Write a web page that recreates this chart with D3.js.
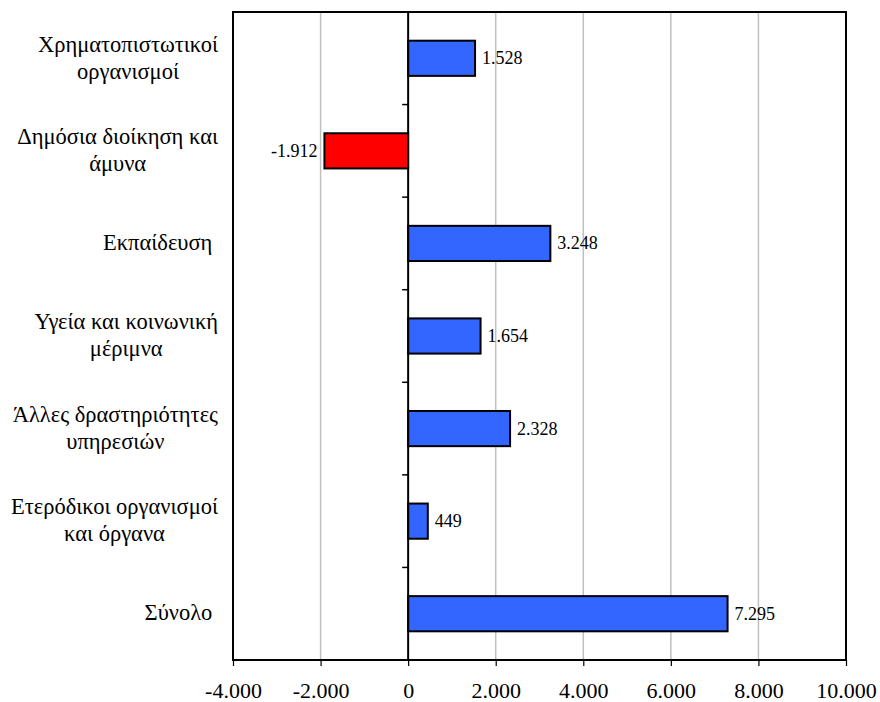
<!DOCTYPE html>
<html>
<head>
<meta charset="utf-8">
<script src="https://cdn.jsdelivr.net/npm/d3@7"></script>
<style>
  body { margin: 0; background: #fff; }
  svg text { font-family: "Liberation Serif", "Times New Roman", serif !important; fill: #000; }
</style>
</head>
<body>
<script>
// Data
const categories = [
    ["Χρηματοπιστωτικοί", "οργανισμοί"],
    ["Δημόσια διοίκηση και", "άμυνα"],
    ["Εκπαίδευση "],
    ["Υγεία και κοινωνική", "μέριμνα"],
    ["Άλλες δραστηριότητες", "υπηρεσιών"],
    ["Ετερόδικοι οργανισμοί", "και όργανα"],
    ["Σύνολο "]
];
const values = [1528, -1912, 3248, 1654, 2328, 449, 7295];
const xTicks = [-4000, -2000, 0, 2000, 4000, 6000, 8000, 10000];

const width = 880, height = 702;
const margin = { top: 12, right: 34, bottom: 42, left: 233 };

const svg = d3.select("body").append("svg")
    .attr("width", width)
    .attr("height", height);

// Greek number format: dot as thousands separator
const fmt = d3.formatLocale({ decimal: ",", thousands: ".", grouping: [3], currency: ["", "€"], minus: "-" }).format(",d");

const xScale = d3.scaleLinear()
    .domain([-4000, 10000])
    .range([margin.left, width - margin.right]);

const yScale = d3.scaleBand()
    .domain(d3.range(categories.length))
    .range([margin.top, height - margin.bottom])
    .paddingInner(0.62)
    .paddingOuter(0.31);

const bandStep = yScale.step();

// Gridlines
svg.append("g")
    .selectAll("line")
    .data(xTicks.filter(d => d !== 0 && d !== -4000 && d !== 10000))
    .join("line")
    .attr("x1", d => xScale(d))
    .attr("x2", d => xScale(d))
    .attr("y1", margin.top)
    .attr("y2", height - margin.bottom)
    .attr("stroke", "#c0c0c0")
    .attr("stroke-width", 1.5);

// Bottom axis
const xAxis = svg.append("g")
    .attr("transform", `translate(0,${height - margin.bottom})`)
    .call(d3.axisBottom(xScale).tickValues(xTicks).tickFormat(fmt).tickSize(6).tickPadding(16));
xAxis.select(".domain").remove();
xAxis.selectAll("line").attr("stroke", "#000").attr("stroke-width", 1.2);
xAxis.selectAll("text")
    .style("font-size", "22px");

// Bars
svg.append("g")
    .selectAll("rect")
    .data(values)
    .join("rect")
    .attr("x", d => xScale(Math.min(0, d)))
    .attr("y", (d, i) => yScale(i))
    .attr("width", d => Math.abs(xScale(d) - xScale(0)))
    .attr("height", yScale.bandwidth())
    .attr("fill", d => d < 0 ? "#ff0000" : "#3366ff")
    .attr("stroke", "#000")
    .attr("stroke-width", 2);

// Value labels
svg.append("g")
    .selectAll("text")
    .data(values)
    .join("text")
    .attr("x", d => d < 0 ? xScale(d) - 7 : xScale(d) + 7)
    .attr("y", (d, i) => yScale(i) + yScale.bandwidth() / 2)
    .attr("dy", "0.33em")
    .attr("text-anchor", d => d < 0 ? "end" : "start")
    .style("font-size", "18px")
    .text(d => fmt(d));

// Zero axis with category ticks
svg.append("line")
    .attr("x1", xScale(0))
    .attr("x2", xScale(0))
    .attr("y1", margin.top)
    .attr("y2", height - margin.bottom)
    .attr("stroke", "#000")
    .attr("stroke-width", 2);

svg.append("g")
    .selectAll("line")
    .data(d3.range(1, categories.length))
    .join("line")
    .attr("x1", xScale(0) - 6)
    .attr("x2", xScale(0))
    .attr("y1", i => margin.top + i * bandStep)
    .attr("y2", i => margin.top + i * bandStep)
    .attr("stroke", "#000")
    .attr("stroke-width", 1.5);

// Plot border
svg.append("rect")
    .attr("x", margin.left)
    .attr("y", margin.top)
    .attr("width", width - margin.right - margin.left)
    .attr("height", height - margin.bottom - margin.top)
    .attr("fill", "none")
    .attr("stroke", "#000")
    .attr("stroke-width", 2);

// Category labels: block right-aligned, lines centered in the block
const labelRight = 218, lineH = 27;
categories.forEach((lines, i) => {
    const cy = margin.top + (i + 0.5) * bandStep;
    const t = svg.append("text")
        .attr("text-anchor", "middle")
        .style("font-size", "22.5px")
        .style("white-space", "pre");
    lines.forEach((ln, j) => {
        t.append("tspan")
            .attr("y", cy + (j - (lines.length - 1) / 2) * lineH)
            .attr("dy", "0.3em")
            .text(ln);
    });
    let w = 0;
    t.selectAll("tspan").each(function() { w = Math.max(w, this.getComputedTextLength()); });
    t.selectAll("tspan").attr("x", labelRight - w / 2);
});
</script>
</body>
</html>
